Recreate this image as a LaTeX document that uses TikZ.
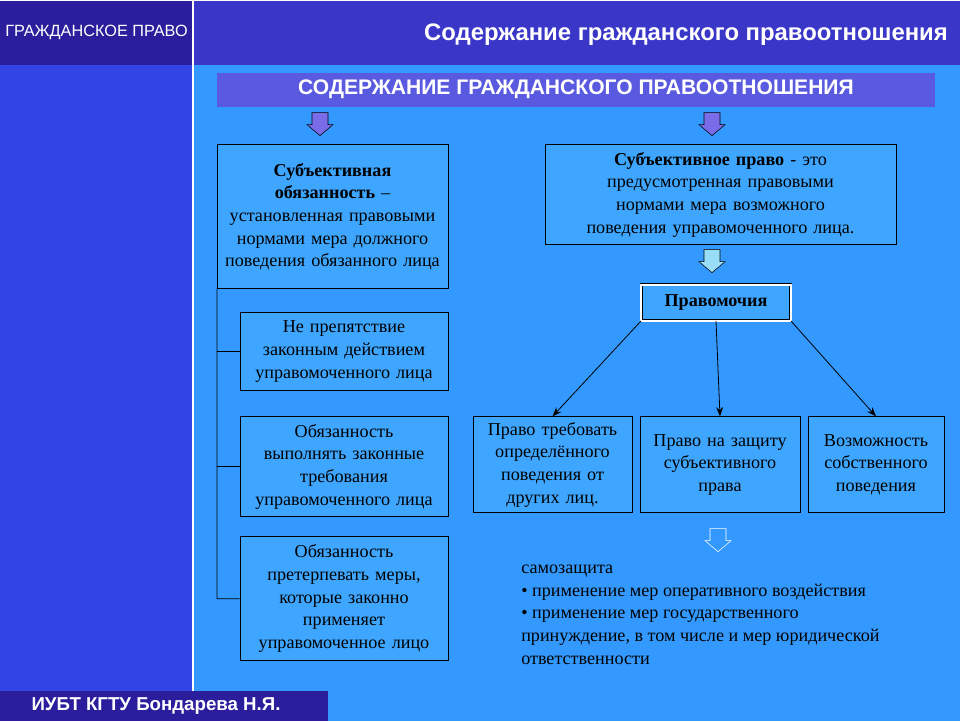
\documentclass[tikz,border=0pt]{standalone}
\usepackage{fontspec}
\setmainfont{Liberation Serif}
\newfontfamily\hsans{Liberation Sans}
\usetikzlibrary{arrows.meta}
\definecolor{bg}{HTML}{3399FF}
\definecolor{leftc}{HTML}{3344E6}
\definecolor{navy}{HTML}{2A1E9C}
\definecolor{topc}{HTML}{3A36C8}
\definecolor{banner}{HTML}{5A5AE0}
\definecolor{boxc}{HTML}{3EA6FF}
\definecolor{arrp}{HTML}{7A6CE8}
\tikzset{
  x=0.75pt,y=-0.75pt,
  bx/.style={draw=black,fill=boxc,align=center,font=\fontsize{13.6}{17}\selectfont,inner sep=2pt},
  ln/.style={draw=black,line width=0.6pt},
  ar/.style={ln,-{Stealth[length=7pt]}},
  pics/blkarr/.style={code={\path[pic actions] (-8,0) -- (8,0) -- (8,12) -- (13,12) -- (0,23) -- (-13,12) -- (-8,12) -- cycle;}}
}
\begin{document}
\begin{tikzpicture}
\fill[bg] (0,0) rectangle (960,720);
\fill[leftc] (0,0) rectangle (192,720);
\fill[navy] (0,0) rectangle (192,64);
\fill[topc] (194,0) rectangle (960,64);
\draw[white,line width=1pt] (193,0) -- (193,720);
\node[text=white,font=\hsans\fontsize{12.2}{14}\selectfont,anchor=west,inner sep=0pt] (h1) at (5,32) {ГРАЖДАНСКОЕ ПРАВО};
\node[text=white,font=\hsans\bfseries\fontsize{17.9}{20}\selectfont,anchor=east,inner sep=0pt] (h2) at (948,34) {Содержание гражданского правоотношения};
\fill[navy] (0,690) rectangle (328,720);
\node[text=white,font=\hsans\bfseries\fontsize{14}{16}\selectfont] (ft) at (156,705) {ИУБТ КГТУ Бондарева Н.Я.};
\node[fill=banner,minimum width=538.5pt,minimum height=25.5pt,text=white,font=\hsans\bfseries\fontsize{15.8}{18}\selectfont] (ban) at (576,89) {СОДЕРЖАНИЕ ГРАЖДАНСКОГО ПРАВООТНОШЕНИЯ};
\pic[draw=black,fill=arrp] at (320,112) {blkarr};
\pic[draw=black,fill=arrp] at (712,112) {blkarr};
\node[bx,text width=166pt,minimum width=173pt,minimum height=108pt] (A) at (332.5,216) {\textbf{Субъективная обязанность} –\\ установленная правовыми нормами мера должного поведения обязанного лица};
\node[bx,text width=252pt,minimum width=263pt,minimum height=75pt] (B) at (720.5,194) {\textbf{Субъективное право} - это\\ предусмотренная правовыми нормами мера возможного поведения управомоченного лица.};
\pic[draw=black,fill=cyan!40] at (712,249) {blkarr};
\node[draw=black,double,double distance=1.5pt,fill=boxc,minimum width=112pt,minimum height=27pt,font=\bfseries\fontsize{13.6}{16}\selectfont] (C) at (716,302) {Правомочия};
\node[bx,text width=148pt,minimum width=156pt,minimum height=58.5pt] (D1) at (344,351) {Не препятствие законным действием управомоченного лица};
\node[bx,text width=148pt,minimum width=156pt,minimum height=75pt] (D2) at (344,466) {Обязанность\\ выполнять законные\\ требования\\ управомоченного лица};
\node[bx,text width=148pt,minimum width=156pt,minimum height=93pt] (D3) at (344,598) {Обязанность\\ претерпевать меры,\\ которые законно\\ применяет\\ управомоченное лицо};
\node[bx,text width=114pt,minimum width=119pt,minimum height=72pt] (E1) at (552.5,464) {Право требовать определённого поведения от других лиц.};
\node[bx,text width=114pt,minimum width=120pt,minimum height=72pt] (E2) at (720,464) {Право на защиту субъективного права};
\node[bx,text width=98pt,minimum width=102pt,minimum height=72pt] (E3) at (876,464) {Возможность собственного поведения};
\coordinate (t3) at (217,598);
\draw[ln] (A.south west) -- (t3) -- (D3.west);
\draw[ln] (217,351) -- (D1.west);
\draw[ln] (217,466) -- (D2.west);
\draw[ar] (C.south west) -- (E1.north);
\draw[ar] (C.south) -- (E2.north);
\draw[ar] (C.south east) -- (E3.north);
\pic[draw=white,fill=bg] at (718,528) {blkarr};
\node[anchor=north west,align=left,font=\fontsize{13.6}{17}\selectfont,inner sep=0pt] (T) at (521,564) {самозащита\\ • применение мер оперативного воздействия\\ • применение мер государственного\\ принуждение, в том числе и мер юридической\\ ответственности};
\end{tikzpicture}
\end{document}
